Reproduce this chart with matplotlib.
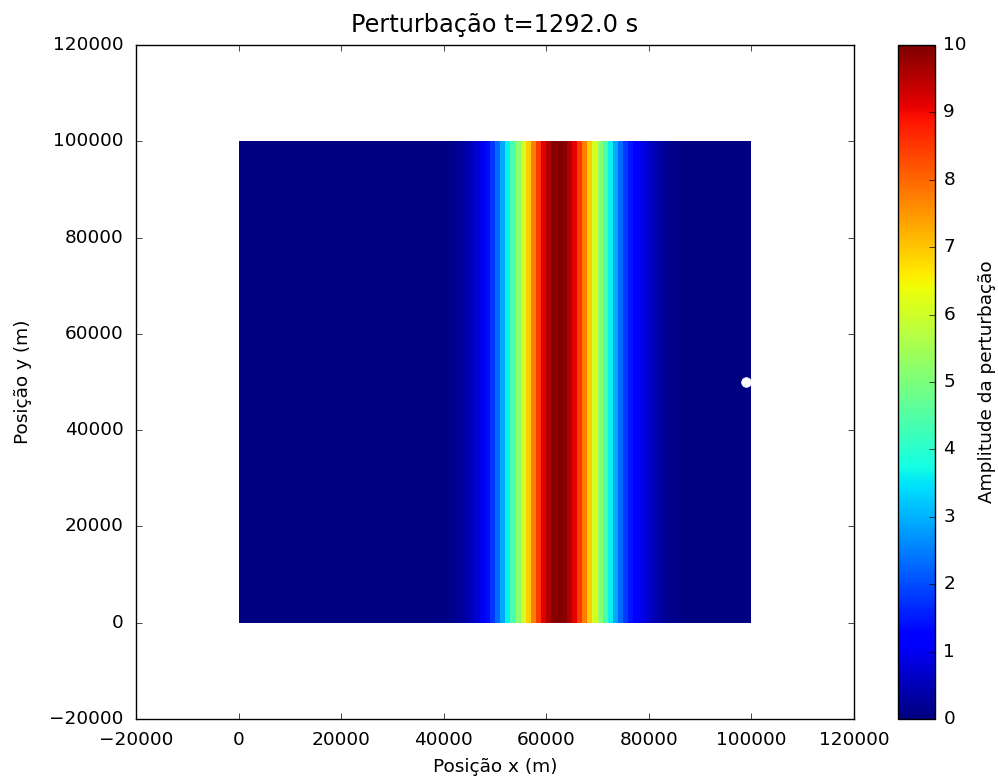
import numpy as np
import matplotlib
matplotlib.use("Agg")
import matplotlib.pyplot as plt

# ---- data ----
x_edges = np.arange(0, 100001, 1000)          # 100 columns of 1000 m
y_edges = np.array([0, 100000])
profile = [0.0] * 37 + [
    0.02, 0.03, 0.05, 0.07, 0.11, 0.17, 0.25, 0.37, 0.52, 0.73, 1.01, 1.35, 1.78,
    2.30, 2.91, 3.60, 4.38, 5.20, 6.07, 6.93, 7.75, 8.49, 9.12, 9.60, 9.90, 10.0,
    9.90, 9.60, 9.12, 8.49, 7.75, 6.93, 6.07, 5.20, 4.38, 3.60, 2.91, 2.30, 1.80,
    1.45, 1.20, 0.95, 0.75, 0.55, 0.40, 0.28, 0.19, 0.12, 0.08, 0.05, 0.03,
] + [0.0] * 12
probe_x = [99000]
probe_y = [50000]
t_value = 1292.0
xticks = [-20000, 0, 20000, 40000, 60000, 80000, 100000, 120000]
yticks = [-20000, 0, 20000, 40000, 60000, 80000, 100000, 120000]
cbar_ticks = list(range(0, 11))

plt.style.use('classic')
plt.rcParams['font.family'] = ['DejaVu Sans']
fs = 13.3

fig = plt.figure(figsize=(9.98, 7.81), dpi=100, facecolor='white')
ax = fig.add_axes([0.1363, 0.0794, 0.7194, 0.8630])
cax = fig.add_axes([0.8998, 0.0794, 0.0371, 0.8630])

Z = np.array([profile])
mesh = ax.pcolormesh(x_edges, y_edges, Z, cmap='jet', vmin=0, vmax=10, shading='flat')
ax.plot(probe_x, probe_y, 'o', color='white', markeredgecolor='white', markersize=7)

ax.set_xlim(-20000, 120000)
ax.set_ylim(-20000, 120000)
ax.set_xticks(xticks)
ax.set_yticks(yticks)
ax.tick_params(labelsize=fs, direction='in', length=4, pad=9)
ax.set_xlabel('Posição x (m)', fontsize=fs, labelpad=6)
ax.set_ylabel('Posição y (m)', fontsize=fs, labelpad=12)
ax.set_title(f'Perturbação t={t_value} s', fontsize=17.3, pad=9)

cb = fig.colorbar(mesh, cax=cax, ticks=cbar_ticks)
cb.ax.tick_params(labelsize=fs, pad=6)
cb.set_label('Amplitude da perturbação', fontsize=fs, labelpad=8)

fig.savefig('out.png', dpi=100, facecolor='white')
